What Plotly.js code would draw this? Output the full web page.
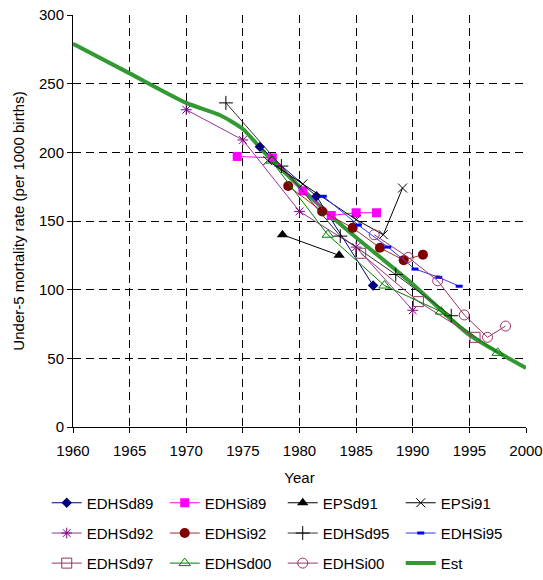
<!DOCTYPE html>
<html>
<head>
<meta charset="utf-8">
<script src="https://cdn.plot.ly/plotly-3.0.1.min.js"></script>
<style>html,body{margin:0;padding:0;background:#fff;}#chart{width:543px;height:580px;}</style>
</head>
<body>
<div id="chart"></div>
<script>
// ---- data ----
const seriesNames = ["EDHSd89","EDHSi89","EPSd91","EPSi91","EDHSd92","EDHSi92","EDHSd95","EDHSi95","EDHSd97","EDHSd00","EDHSi00","Est"];

const EDHSd89_x = [1976.5, 1981.5, 1986.5];
const EDHSd89_y = [204, 168, 103];

const EDHSi89_x = [1974.5, 1977.6, 1980.3, 1982.8, 1985.0, 1986.8];
const EDHSi89_y = [197, 196, 172, 154, 156, 156];

const EPSd91_x = [1978.5, 1983.5];
const EPSd91_y = [140, 125];

const EPSi91_x = [1977.2, 1980.3, 1985.0, 1987.4, 1989.1];
const EPSi91_y = [194, 177, 151, 140, 174];

const EDHSd92_x = [1970, 1975, 1980, 1985, 1990];
const EDHSd92_y = [231, 209, 157, 131, 85];

const EDHSi92_x = [1979.0, 1982.0, 1984.7, 1987.1, 1989.2, 1990.9];
const EDHSi92_y = [175.5, 157, 145, 130.5, 121.5, 125.5];

const EDHSd95_x = [1973.5, 1978.4, 1983.6, 1988.5, 1993.4];
const EDHSd95_y = [236, 190, 139, 111, 81];

const EDHSi95_x = [1982.1, 1985.2, 1987.8, 1990.2, 1992.3, 1994.1];
const EDHSi95_y = [168, 147, 131, 115, 109, 102.5];

const EDHSd97_x = [1985.4, 1990.5, 1995.5];
const EDHSd97_y = [126.5, 91.3, 65.3];

const EDHSd00_x = [1977.5, 1982.5, 1987.5, 1992.5, 1997.5];
const EDHSd00_y = [194, 140, 103, 84, 54];

const EDHSi00_x = [1986.6, 1989.6, 1992.2, 1994.55, 1996.6, 1998.2];
const EDHSi00_y = [140, 123.5, 106.5, 81.6, 65.3, 73.5];

const Est_x = [1960, 1965, 1970, 1973, 1975, 1977, 1980, 1983, 1985, 1990, 1995, 2000];
const Est_y = [279, 257.5, 236, 227, 217, 199, 175, 152, 138, 104, 67, 43];

const xTicks = [1960, 1965, 1970, 1975, 1980, 1985, 1990, 1995, 2000];
const yTicks = [0, 50, 100, 150, 200, 250, 300];

// ---- styling ----
function tr(name, xs, ys, lineColor, sym, mColor, mSize, mLineW, leg, rank) {
  return {
    type: 'scatter', mode: 'lines+markers', name: name, x: xs, y: ys,
    line: {color: lineColor, width: 1},
    marker: {symbol: sym, color: mColor, size: mSize, line: {color: mColor, width: mLineW}},
    legend: leg, legendrank: rank, cliponaxis: false
  };
}

const traces = [
  {type:'scatter', mode:'lines', name: seriesNames[11], x: Est_x, y: Est_y,
   line:{color:'#339933', width:4, shape:'spline', smoothing:0.6}, legend:'legend3', legendrank: 12},
  tr(seriesNames[0], EDHSd89_x, EDHSd89_y, '#000080', 'diamond', '#000080', 8, 0, 'legend', 1),
  tr(seriesNames[1], EDHSi89_x, EDHSi89_y, '#FF00FF', 'square', '#FF00FF', 9, 0, 'legend', 2),
  tr(seriesNames[2], EPSd91_x, EPSd91_y, '#000000', 'triangle-up', '#000000', 10, 0, 'legend', 3),
  tr(seriesNames[3], EPSi91_x, EPSi91_y, '#000000', 'x-thin-open', '#000000', 9, 1, 'legend', 4),
  tr(seriesNames[4], EDHSd92_x, EDHSd92_y, '#993399', 'asterisk-open', '#800080', 9, 1, 'legend2', 5),
  tr(seriesNames[5], EDHSi92_x, EDHSi92_y, '#993333', 'circle', '#800000', 10, 0, 'legend2', 6),
  tr(seriesNames[6], EDHSd95_x, EDHSd95_y, '#333333', 'cross-thin-open', '#000000', 10, 1, 'legend2', 7),
  tr(seriesNames[7], EDHSi95_x, EDHSi95_y, '#3333FF', 'line-ew-open', '#0000FF', 5, 3, 'legend2', 8),
  tr(seriesNames[8], EDHSd97_x, EDHSd97_y, '#993366', 'square-open', '#993366', 10, 1, 'legend3', 9),
  tr(seriesNames[9], EDHSd00_x, EDHSd00_y, '#008000', 'triangle-up-open', '#008000', 10, 1, 'legend3', 10),
  tr(seriesNames[10], EDHSi00_x, EDHSi00_y, '#993366', 'circle-open', '#993366', 10, 1, 'legend3', 11)
];

const FONT = 'Liberation Sans, Arial, sans-serif';
function legendAt(y) {
  return {orientation:'h', x:-0.058, xanchor:'left', y:y, yanchor:'middle',
    entrywidth: 73, entrywidthmode:'pixels', font:{family:FONT, size:15, color:'#000'},
    bgcolor:'rgba(0,0,0,0)', borderwidth:0, itemwidth:30, traceorder:'normal'};
}

const layout = {
  width: 543, height: 580,
  margin: {l:73, r:17, t:15, b:153, pad:0, autoexpand:false},
  paper_bgcolor:'#fff', plot_bgcolor:'#fff',
  font: {family: FONT, size: 15, color:'#000'},
  showlegend: true,
  xaxis: {
    range:[1960, 2000], tickvals: xTicks, ticktext: xTicks.map(String),
    showgrid:true, gridcolor:'#000', gridwidth:1, griddash:'8px,5px',
    showline:true, linecolor:'#000', linewidth:1, ticks:'outside', ticklen:5, tickcolor:'#000',
    ticklabelstandoff:5,
    zeroline:false, tickfont:{family:FONT, size:15},
    title:{text:'Year', font:{family:FONT, size:15}, standoff:14}
  },
  yaxis: {
    range:[0, 300], tickvals: yTicks, ticktext: yTicks.map(String),
    showgrid:true, gridcolor:'#000', gridwidth:1, griddash:'8px,5px',
    showline:true, linecolor:'#000', linewidth:1, ticks:'outside', ticklen:5, tickcolor:'#000',
    zeroline:false, tickfont:{family:FONT, size:15},
    title:{text:'Under-5 mortality rate (per 1000 births)', font:{family:FONT, size:15}, standoff:10}
  },
  legend: legendAt(-0.1845),
  legend2: legendAt(-0.258),
  legend3: legendAt(-0.331)
};

Plotly.newPlot('chart', traces, layout, {displayModeBar:false, staticPlot:true});
</script>
</body>
</html>
